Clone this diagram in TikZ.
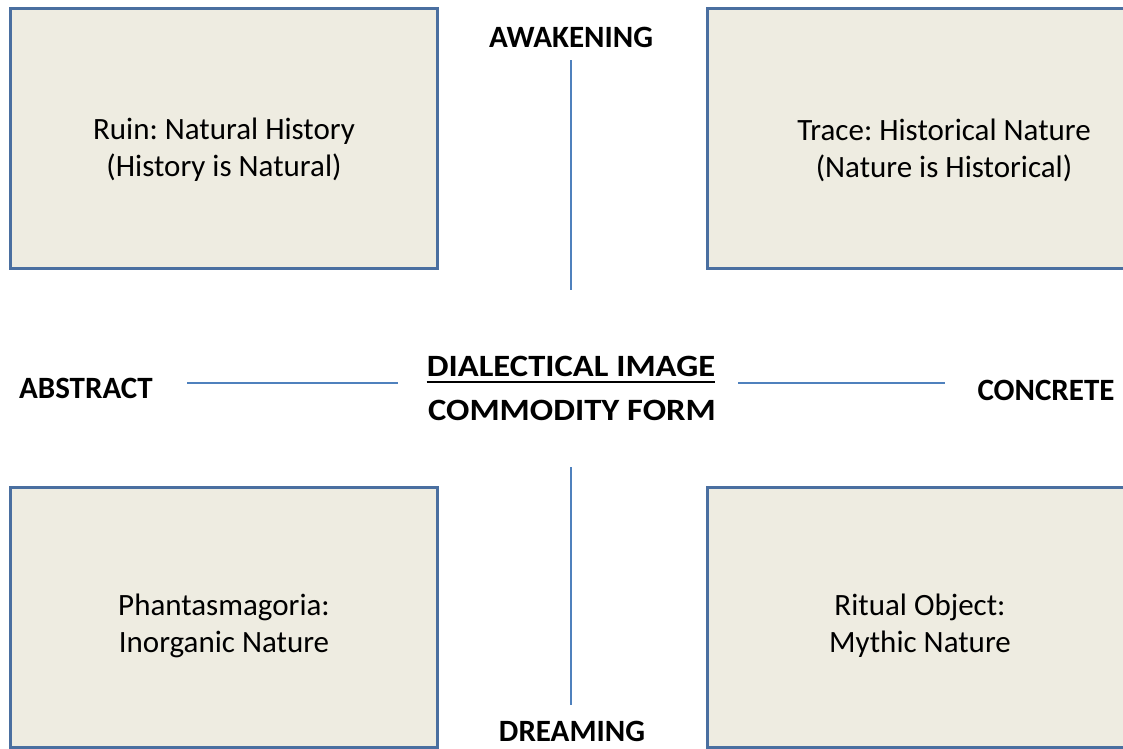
\documentclass[tikz,border=0pt]{standalone}
\usepackage{fontspec}
\setmainfont{Carlito}
\frenchspacing
\definecolor{boxfill}{HTML}{EEECE1}
\definecolor{boxedge}{HTML}{4A6FA0}
\definecolor{axis}{HTML}{4F81BD}
\tikzset{
  quad/.style={draw=boxedge, line width=3pt, fill=boxfill},
  qtext/.style={align=center, font=\fontsize{31}{37}\selectfont, inner sep=0pt},
  lbl/.style={font=\fontsize{31}{37}\selectfont\bfseries, inner sep=0pt, anchor=base},
  wide/.style={xscale=1.115, transform shape},
  axisline/.style={draw=axis, line width=2pt}
}
\begin{document}
\begin{tikzpicture}[x=1pt,y=-1pt]
\useasboundingbox (0,0) rectangle (1123,748);
\clip (0,0) rectangle (1123,748);
% quadrant boxes
\draw[quad] (10,8) rectangle (437,268);
\draw[quad] (707,8) rectangle (1182,268);
\draw[quad] (10,487) rectangle (437,747);
\draw[quad] (707,487) rectangle (1134,747);
\node[qtext] (ruin) at (224,150) {Ruin: Natural History\\(History is Natural)};
\node[qtext] (trace) at (944,150) {Trace: Historical Nature\\(Nature is Historical)};
\node[qtext] (phan) at (224,626) {Phantasmagoria:\\Inorganic Nature};
\node[qtext] (ritual) at (920,626) {Ritual Object:\\Mythic Nature};
% axis labels
\node[lbl] (awake) at (571,47) {AWAKENING};
\node[lbl] (dream) at (572,741) {DREAMING};
\node[lbl] (abs) at (86,398) {ABSTRACT};
\node[lbl] (conc) at (1046,400) {CONCRETE};
\begin{scope}[shift={(571,376)}]
\node[lbl, wide] (dial) at (0,0) {DIALECTICAL IMAGE};
\end{scope}
\begin{scope}[shift={(572,420)}]
\node[lbl, wide] (comm) at (0,0) {COMMODITY FORM};
\end{scope}
\draw[line width=2.2pt] ([yshift=-6pt]dial.base west) -- ([yshift=-6pt]dial.base east);
% axis lines
\coordinate (vt1) at (571,60); \coordinate (vt2) at (571,290);
\coordinate (vb1) at (571,467); \coordinate (vb2) at (571,705);
\coordinate (hl1) at (187,383); \coordinate (hl2) at (398,383);
\coordinate (hr1) at (738,383); \coordinate (hr2) at (945,383);
\draw[axisline] (vt1) -- (vt2);
\draw[axisline] (vb1) -- (vb2);
\draw[axisline] (hl1) -- (hl2);
\draw[axisline] (hr1) -- (hr2);
\end{tikzpicture}
\end{document}
